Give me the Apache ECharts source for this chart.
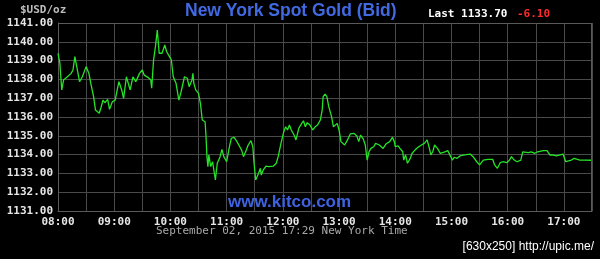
<!DOCTYPE html>
<html><head><meta charset="utf-8">
<script src="https://cdn.jsdelivr.net/npm/echarts@6/dist/echarts.min.js"></script>
<style>html,body{margin:0;padding:0;background:#000}#c{width:600px;height:259px}</style>
</head><body><div id="c"></div>
<script>
// minutes after 08:00 (New York time)
const minutes = [0,2,4,6,10,14,16,18,20,23,26,30,33,35,38,40,42,44,46,48,50,53,55,58,61,65,68,70,73,74,77,80,83,87,90,92,96,99,100,102,104,106,108,111,114,116,119,121,123,126,129,131,135,138,140,143,144,145,147,150,152,154,157,158,159,160,161,163,165,168,170,173,175,177,180,183,185,188,191,194,196,198,201,203,206,208,209,211,214,216,217,219,222,225,227,230,233,235,238,241,243,245,247,249,252,254,257,259,262,264,266,269,272,274,277,280,282,283,285,287,289,292,294,296,298,300,302,304,306,309,312,316,319,321,323,326,328,330,332,334,337,339,341,343,345,347,350,352,354,357,359,360,363,365,368,369,371,373,376,378,381,383,385,388,391,394,396,398,400,402,405,408,410,413,416,418,421,423,426,429,431,434,440,443,447,450,454,459,464,466,469,472,475,479,482,484,487,490,494,496,498,502,505,509,512,518,522,525,528,532,536,539,542,544,548,551,553,557,562,569];
const prices = [1139.39,1138.86,1137.44,1137.97,1138.14,1138.32,1138.5,1139.21,1138.68,1137.88,1138.14,1138.68,1138.32,1137.79,1137.08,1136.37,1136.28,1136.2,1136.52,1136.9,1136.76,1136.94,1136.41,1136.81,1136.9,1137.88,1137.44,1136.99,1138.14,1137.97,1137.44,1138.14,1137.88,1138.32,1138.5,1138.23,1138.11,1137.97,1137.53,1139.03,1139.74,1140.63,1139.39,1139.39,1139.83,1139.47,1139.21,1139.03,1138.14,1137.79,1136.9,1137.26,1138.14,1138.06,1137.61,1137.97,1138.32,1137.79,1137.44,1137.26,1136.73,1135.84,1135.75,1134.95,1133.89,1133.36,1133.98,1133.36,1133.62,1132.65,1133.54,1133.89,1134.28,1133.89,1133.62,1134.42,1134.87,1134.92,1134.69,1134.42,1134.24,1133.89,1134.24,1134.51,1134.74,1134.42,1133.71,1132.65,1133.0,1133.27,1132.91,1133.18,1133.39,1133.36,1133.45,1133.39,1133.54,1133.89,1134.6,1135.22,1135.48,1135.31,1135.57,1135.31,1135.04,1134.78,1135.4,1135.57,1135.8,1135.48,1135.7,1135.57,1135.31,1135.45,1135.57,1135.84,1136.37,1137.08,1137.21,1137.08,1136.55,1136.02,1135.48,1135.4,1135.66,1135.31,1134.69,1134.6,1134.51,1134.78,1135.1,1135.13,1134.99,1134.69,1135.04,1134.81,1134.51,1133.71,1134.15,1134.33,1134.42,1134.6,1134.69,1134.51,1134.56,1134.33,1134.56,1134.46,1134.69,1134.92,1134.69,1134.42,1134.46,1134.33,1134.15,1133.71,1133.98,1133.54,1133.8,1134.07,1134.24,1134.15,1134.42,1134.51,1134.6,1134.78,1134.42,1133.98,1134.15,1134.51,1134.33,1134.07,1133.98,1134.15,1134.21,1134.15,1133.71,1133.86,1133.8,1133.93,1133.86,1133.98,1134.03,1133.89,1133.62,1133.45,1133.71,1133.75,1133.75,1133.45,1133.27,1133.57,1133.62,1133.57,1133.71,1133.89,1133.71,1133.62,1133.71,1134.15,1134.21,1134.1,1134.15,1134.07,1134.15,1134.21,1134.21,1133.98,1133.98,1133.93,1133.98,1134.03,1133.62,1133.71,1133.71,1133.8,1133.75,1133.71,1133.71,1133.7];
const yTicks = [1131,1132,1133,1134,1135,1136,1137,1138,1139,1140,1141];
const titleText = 'New York Spot Gold (Bid)';
const unitText = '$USD/oz';
const lastText = 'Last 1133.70';
const changeText = '-6.10';
const dateText = 'September 02, 2015 17:29 New York Time';
const siteText = 'www.kitco.com';
const creditText = '[630x250] http://upic.me/';

const mono = 'DejaVu Sans Mono';
const chart = echarts.init(document.getElementById('c'), null, {renderer: 'canvas'});
chart.setOption({
  backgroundColor: '#000',
  animation: false,
  grid: {left: 58, right: 8, top: 23, bottom: 48, containLabel: false},
  xAxis: {
    type: 'value', min: 0, max: 570, interval: 30,
    axisLine: {show: true, lineStyle: {color: '#5a5a5a'}},
    axisTick: {show: false},
    splitLine: {show: true, lineStyle: {color: '#4a4a4a', width: 1}},
    axisLabel: {
      color: '#e6e6e6', fontFamily: mono, fontWeight: 'bold', fontSize: 11, margin: 6,
      formatter: v => (v % 60 === 0) ? String(8 + v / 60).padStart(2, '0') + ':00' : ''
    }
  },
  yAxis: {
    type: 'value', min: yTicks[0], max: yTicks[yTicks.length - 1], interval: 1,
    axisLine: {show: true, lineStyle: {color: '#5a5a5a'}},
    axisTick: {show: false},
    splitLine: {show: true, lineStyle: {color: '#4a4a4a', width: 1}},
    axisLabel: {color: '#e6e6e6', fontFamily: mono, fontWeight: 'bold', fontSize: 11, margin: 5,
      formatter: v => v.toFixed(2)}
  },
  series: [{
    type: 'line', showSymbol: false, symbol: 'none',
    data: minutes.map((m, i) => [m, prices[i]]),
    lineStyle: {color: '#26e326', width: 1.3}
  }],
  graphic: [
    {type: 'rect', left: 591, top: 23, shape: {width: 1, height: 188}, style: {fill: '#5a5a5a'}, z: 10},
    {type: 'rect', left: 58, top: 23, shape: {width: 534, height: 1}, style: {fill: '#5a5a5a'}, z: 10},
    {type: 'text', left: 20, top: 5, style: {text: unitText, fill: '#bdbdbd', font: 'bold 11px "DejaVu Sans Mono"'}},
    {type: 'text', left: 185, top: 2, style: {text: titleText, fill: '#4169e1', font: 'bold 17.5px "Liberation Sans"'}},
    {type: 'text', left: 428, top: 9, style: {text: lastText, fill: '#ffffff', font: 'bold 11px "DejaVu Sans Mono"'}},
    {type: 'text', left: 517, top: 9, style: {text: changeText, fill: '#ff2a2a', font: 'bold 11px "DejaVu Sans Mono"'}},
    {type: 'text', left: 228, top: 194, style: {text: siteText, fill: '#3f63e0', font: 'bold 17px "Liberation Sans"'}, z: 20},
    {type: 'text', left: 156, top: 226, style: {text: dateText, fill: '#a8a8a8', font: '11px "DejaVu Sans Mono"'}},
    {type: 'text', right: 6, top: 241, style: {text: creditText, fill: '#ffffff', font: '12px "Liberation Sans"'}}
  ]
});
</script></body></html>
